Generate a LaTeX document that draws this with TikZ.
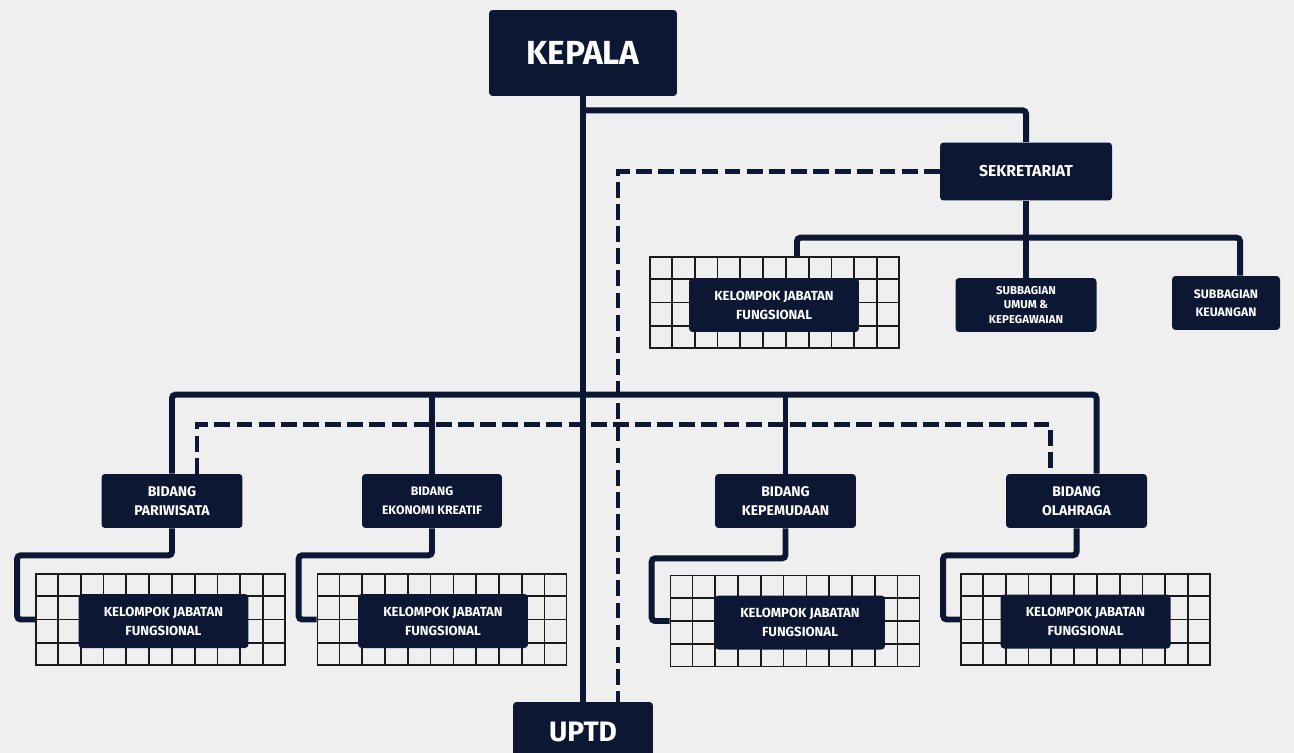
\documentclass[tikz,border=0pt]{standalone}
\usepackage{fontspec}
\setmainfont{Fira Sans}
\usetikzlibrary{calc}
\definecolor{Navy}{HTML}{0C1733}
\definecolor{Paper}{HTML}{EFEFEF}
\definecolor{Cell}{HTML}{1A1A1A}
\tikzset{
  unit/.style={fill=Navy,rounded corners=2pt,text=white,align=center,inner sep=0pt,minimum width=2.82cm,minimum height=1.08cm,font=\bfseries\fontsize{8}{10.6}\selectfont},
  head/.style={unit,minimum width=3.76cm,minimum height=1.72cm,font=\bfseries\fontsize{19}{22}\selectfont},
  kjf/.style={unit,minimum width=3.4cm,font=\bfseries\fontsize{7.5}{10.8}\selectfont},
  sub/.style={unit,font=\bfseries\fontsize{6.5}{8.5}\selectfont},
  cellgrid/.style={draw=Cell,line width=1pt,minimum width=4.98cm,minimum height=1.82cm,inner sep=0pt},
  cellline/.style={draw=Cell,line width=1pt},
  link/.style={draw=Navy,line width=3.4pt,rounded corners=2pt},
  dlink/.style={draw=Navy,line width=2.8pt,dash pattern=on 9pt off 3.6pt}
}
\begin{document}
\begin{tikzpicture}[x=0.02cm,y=-0.02cm]
  \fill[Paper] (0,0) rectangle (1294,753);
  \useasboundingbox (0,0) rectangle (1294,753);

  % grids behind the functional groups
  \node[cellgrid] (g0) at (774.5,302.5) {};
  \node[cellgrid] (g1) at (160.5,619.5) {};
  \node[cellgrid] (g2) at (442,619.5) {};
  \node[cellgrid] (g3) at (795,621) {};
  \node[cellgrid] (g4) at (1085.5,619.5) {};
  \foreach \g in {g0,g1,g2,g3,g4}{
    \foreach \i in {1,...,10}
      \draw[cellline] ($(\g.north west)!\i/11!(\g.north east)$) -- ($(\g.south west)!\i/11!(\g.south east)$);
    \foreach \j in {1,2,3}
      \draw[cellline] ($(\g.north west)!\j/4!(\g.south west)$) -- ($(\g.north east)!\j/4!(\g.south east)$);
  }

  % boxes
  \node[head] (kepala) at (583,53) {KEPALA};
  \node[unit,minimum width=3.44cm,minimum height=1.16cm,font=\bfseries\fontsize{9}{11}\selectfont] (sekr) at (1026,171.5) {SEKRETARIAT};
  \node[kjf] (k0) at (774,305) {KELOMPOK JABATAN\\FUNGSIONAL};
  \node[sub] (umum) at (1026,305) {SUBBAGIAN\\UMUM \&\\KEPEGAWAIAN};
  \node[sub,minimum width=2.16cm,font=\bfseries\fontsize{7}{10}\selectfont] (keu) at (1226,303) {SUBBAGIAN\\KEUANGAN};
  \node[unit] (pari) at (172,501) {BIDANG\\PARIWISATA};
  \node[unit,minimum width=2.8cm,font=\bfseries\fontsize{7}{10.6}\selectfont] (ekon) at (432,501) {BIDANG\\EKONOMI KREATIF};
  \node[unit] (kepem) at (785.5,501) {BIDANG\\KEPEMUDAAN};
  \node[unit] (olah) at (1076.5,501) {BIDANG\\OLAHRAGA};
  \node[kjf] (k1) at (163.5,621) {KELOMPOK JABATAN\\FUNGSIONAL};
  \node[kjf] (k2) at (443,621) {KELOMPOK JABATAN\\FUNGSIONAL};
  \node[kjf] (k3) at (800,622.5) {KELOMPOK JABATAN\\FUNGSIONAL};
  \node[kjf] (k4) at (1085.5,621.5) {KELOMPOK JABATAN\\FUNGSIONAL};
  \node[unit,minimum width=2.8cm,minimum height=1.2cm,font=\bfseries\fontsize{16}{18}\selectfont] (uptd) at (583,732) {UPTD};

  % command lines
  \draw[link] (kepala.south) -- (uptd.north);
  \draw[link] ($(kepala.south)+(0,14)$) -| (sekr.north);
  \draw[link] (sekr.south) -- (umum.north);
  \draw[link] ($(g0.north)+(22.5,0)$) |- ($(keu.north)+(14,-38)$) -- ($(keu.north)+(14,0)$);
  \draw[link] (pari.north) -- ++(0,-79) -| ($(olah.north)+(20,0)$);
  \draw[link] (ekon.north) -- ++(0,-79);
  \draw[link] (kepem.north) -- ++(0,-79);
  \draw[link] (pari.south) -- ++(0,27) -| ($(g1.west)+(-18,0)$) -- (g1.west);
  \draw[link] (ekon.south) -- ++(0,27) -| ($(g2.west)+(-18,0)$) -- (g2.west);
  \draw[link] (kepem.south) -- ++(0,30) -| ($(g3.west)+(-18,0)$) -- (g3.west);
  \draw[link] (olah.south) -- ++(0,27) -| ($(g4.west)+(-17,0)$) -- (g4.west);

  % coordination lines
  \draw[dlink] (sekr.west) -| ($(uptd.north)+(35,0)$);
  \draw[dlink] ($(pari.north)+(25,0)$) -- ++(0,-49) -| ($(olah.north)+(-26,0)$);
\end{tikzpicture}
\end{document}
